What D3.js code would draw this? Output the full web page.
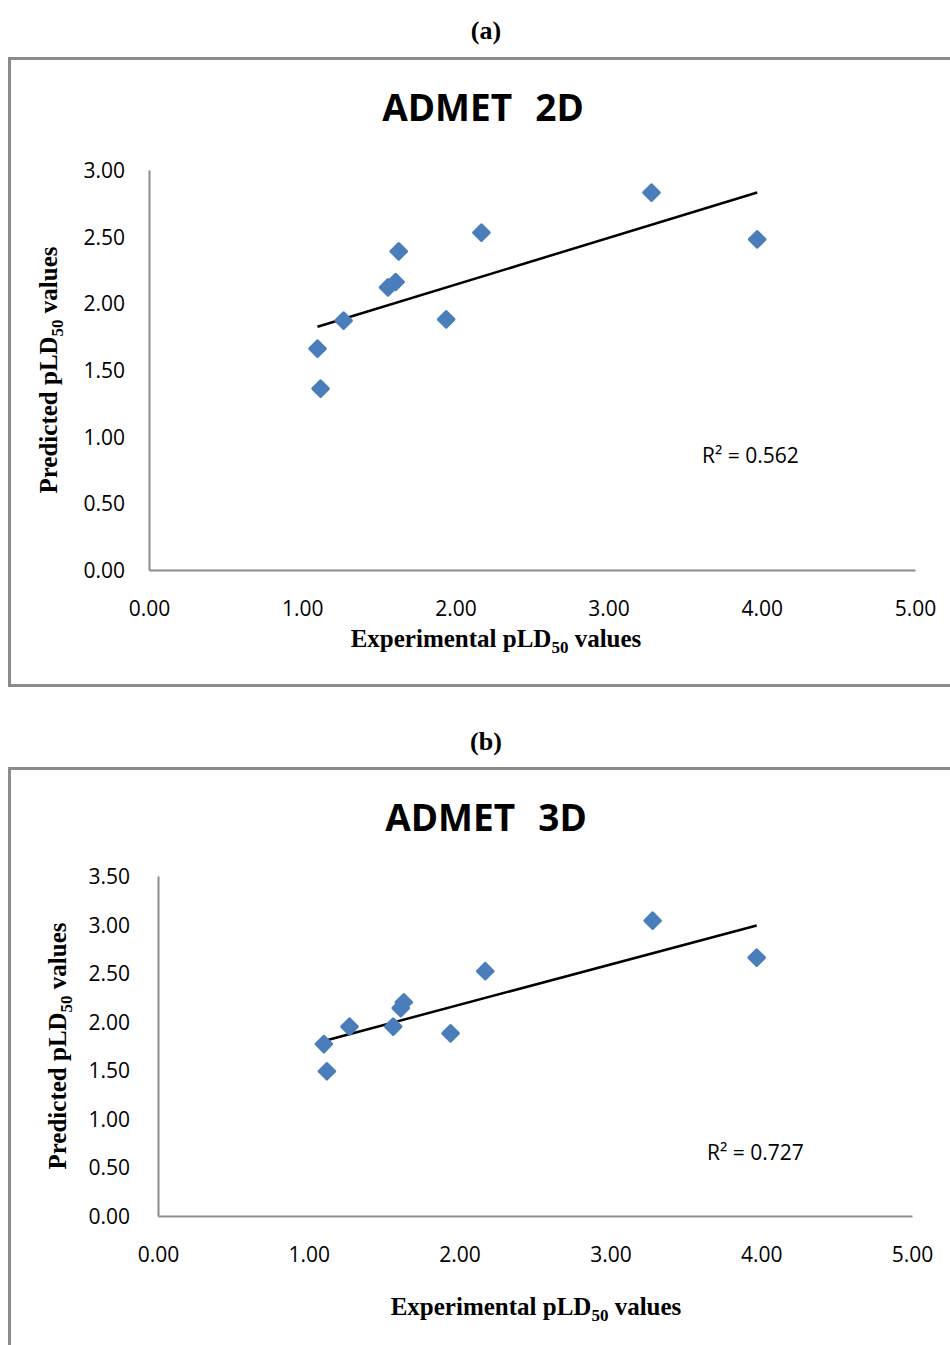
<!DOCTYPE html>
<html>
<head>
<meta charset="utf-8">
<script src="https://cdn.jsdelivr.net/npm/d3@7"></script>
<style>
  body { margin: 0; background: #fff; }
  .tick-label { font-family: "Open Sans", sans-serif; font-size: 21px; fill: #000; }
  .title { font-family: "Open Sans", sans-serif; font-weight: bold; font-size: 37px; white-space: pre; word-spacing: 2px; }
  .axis-title { font-family: "Liberation Serif", "Times New Roman", serif; font-weight: bold; font-size: 25px; }
  .panel-label { font-family: "Liberation Serif", "Times New Roman", serif; font-weight: bold; font-size: 26px; }
</style>
</head>
<body>
<div id="chart"></div>
<script>
// experimental values (same compounds in both panels)
var expValues = [1.10, 1.12, 1.27, 1.56, 1.61, 1.63, 1.94, 2.17, 3.28, 3.97];
// predicted values
var pred2D = [1.66, 1.36, 1.87, 2.12, 2.16, 2.39, 1.88, 2.53, 2.83, 2.48];
var pred3D = [1.77, 1.49, 1.95, 1.95, 2.14, 2.20, 1.88, 2.52, 3.04, 2.66];

var xTicks = [0, 1, 2, 3, 4, 5];
var yTicks2D = [0, 0.5, 1, 1.5, 2, 2.5, 3];
var yTicks3D = [0, 0.5, 1, 1.5, 2, 2.5, 3, 3.5];

var panelLabels = ["(a)", "(b)"];
var titles = ["ADMET  2D", "ADMET  3D"];
var rSquared = ["0.562", "0.727"];

var svg = d3.select("#chart")
    .append("svg")
    .attr("width", 950)
    .attr("height", 1345);

/**
 * least squares line through the points
 */
function fitLine(xs, ys) {
    var mx = d3.mean(xs), my = d3.mean(ys);
    var sxy = 0, sxx = 0;
    for (var i = 0; i < xs.length; i++) {
        sxy += (xs[i] - mx) * (ys[i] - my);
        sxx += (xs[i] - mx) * (xs[i] - mx);
    }
    var slope = sxy / sxx;
    return { slope: slope, intercept: my - slope * mx };
}

function drawPanel(p) {
    var g = svg.append("g");

    // panel letter above the frame
    g.append("text")
        .attr("class", "panel-label")
        .attr("x", 486)
        .attr("y", p.labelY)
        .attr("text-anchor", "middle")
        .text(p.label);

    // chart frame
    g.append("rect")
        .attr("x", 9.5)
        .attr("y", p.frameTop)
        .attr("width", 1000)
        .attr("height", p.frameHeight)
        .attr("fill", "none")
        .attr("stroke", "#8c8c8c")
        .attr("stroke-width", 3);

    g.append("text")
        .attr("class", "title")
        .attr("x", p.titleX)
        .attr("y", p.titleY)
        .attr("text-anchor", "middle")
        .text(p.title);

    var x = d3.scaleLinear().domain([0, 5]).range([p.left, p.right]);
    var y = d3.scaleLinear().domain([0, d3.max(p.yTicks)]).range([p.bottom, p.top]);

    // axes without tick marks
    var xAxis = g.append("g")
        .attr("transform", "translate(0," + p.bottom + ")")
        .call(d3.axisBottom(x).tickValues(xTicks).tickSize(0).tickPadding(31).tickFormat(d3.format(".2f")));
    var yAxis = g.append("g")
        .attr("transform", "translate(" + p.left + ",0)")
        .call(d3.axisLeft(y).tickValues(p.yTicks).tickSize(0).tickPadding(p.yPad).tickFormat(d3.format(".2f")));

    [xAxis, yAxis].forEach(function(a) {
        a.select(".domain").attr("stroke", "#8c8c8c").attr("stroke-width", 2);
        a.selectAll("text").attr("class", "tick-label").attr("font-size", null).attr("font-family", null);
    });
    yAxis.selectAll("text").attr("dy", "0.36em");

    // axis titles
    var xt = g.append("text")
        .attr("class", "axis-title")
        .attr("x", p.xTitleX)
        .attr("y", p.xTitleY)
        .attr("text-anchor", "middle");
    xt.append("tspan").text("Experimental pLD");
    xt.append("tspan").attr("font-size", "17px").attr("dy", 6).text("50");
    xt.append("tspan").attr("dy", -6).text(" values");

    var yt = g.append("text")
        .attr("class", "axis-title")
        .attr("transform", "translate(" + p.yTitleX + "," + p.yTitleY + ") rotate(-90)")
        .attr("text-anchor", "middle");
    yt.append("tspan").text("Predicted pLD");
    yt.append("tspan").attr("font-size", "17px").attr("dy", 6).text("50");
    yt.append("tspan").attr("dy", -6).text(" values");

    // trendline
    var fit = fitLine(expValues, p.values);
    var x0 = d3.min(expValues), x1 = d3.max(expValues);
    g.append("line")
        .attr("x1", x(x0))
        .attr("y1", y(fit.intercept + fit.slope * x0))
        .attr("x2", x(x1))
        .attr("y2", y(fit.intercept + fit.slope * x1))
        .attr("stroke", "#000")
        .attr("stroke-width", 2.5);

    // diamonds
    var pts = expValues.map(function(v, i) { return [v, p.values[i]]; });
    g.append("g")
        .selectAll("rect")
        .data(pts)
        .join("rect")
        .attr("x", -7)
        .attr("y", -7)
        .attr("width", 14)
        .attr("height", 14)
        .attr("rx", 1.5)
        .attr("fill", "#4a7ebb")
        .attr("transform", function(d) {
            return "translate(" + x(d[0]) + "," + y(d[1]) + ") rotate(45)";
        });

    // R squared label
    g.append("text")
        .attr("class", "tick-label")
        .attr("x", p.r2X)
        .attr("y", p.r2Y)
        .attr("dy", "0.36em")
        .text("R\u00B2 = " + p.r2);
}

drawPanel({
    label: panelLabels[0], labelY: 39,
    frameTop: 58.5, frameHeight: 627,
    title: titles[0], titleX: 483, titleY: 121,
    left: 149, right: 915, top: 170, bottom: 570,
    yTicks: yTicks2D, yPad: 24,
    values: pred2D,
    xTitleX: 496, xTitleY: 647,
    yTitleX: 57, yTitleY: 370,
    r2: rSquared[0], r2X: 702, r2Y: 455
});

drawPanel({
    label: panelLabels[1], labelY: 750,
    frameTop: 768.5, frameHeight: 700,
    title: titles[1], titleX: 486, titleY: 831,
    left: 158, right: 912, top: 876, bottom: 1216,
    yTicks: yTicks3D, yPad: 28,
    values: pred3D,
    xTitleX: 536, xTitleY: 1315,
    yTitleX: 66, yTitleY: 1046,
    r2: rSquared[1], r2X: 707, r2Y: 1152
});
</script>
</body>
</html>
